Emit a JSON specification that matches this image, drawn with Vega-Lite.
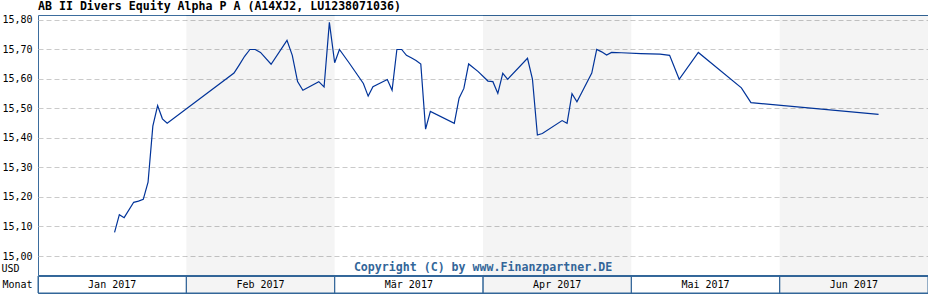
{
  "$schema": "https://vega.github.io/schema/vega-lite/v6.json",
  "padding": {"left": 0, "top": 0, "right": 1, "bottom": 0},
  "background": "white",
  "datasets": {
    "prices": [
      {"date": "2017-01-17", "value": 15.08},
      {"date": "2017-01-18", "value": 15.14},
      {"date": "2017-01-19", "value": 15.13},
      {"date": "2017-01-21", "value": 15.182},
      {"date": "2017-01-22", "value": 15.186},
      {"date": "2017-01-23", "value": 15.192},
      {"date": "2017-01-24", "value": 15.25},
      {"date": "2017-01-25", "value": 15.44},
      {"date": "2017-01-26", "value": 15.51},
      {"date": "2017-01-27", "value": 15.465},
      {"date": "2017-01-28", "value": 15.45},
      {"date": "2017-02-10", "value": 15.62},
      {"date": "2017-02-11", "value": 15.648},
      {"date": "2017-02-12", "value": 15.677},
      {"date": "2017-02-13", "value": 15.70},
      {"date": "2017-02-14", "value": 15.70},
      {"date": "2017-02-15", "value": 15.69},
      {"date": "2017-02-17", "value": 15.65},
      {"date": "2017-02-20", "value": 15.731},
      {"date": "2017-02-21", "value": 15.68},
      {"date": "2017-02-22", "value": 15.591},
      {"date": "2017-02-23", "value": 15.562},
      {"date": "2017-02-26", "value": 15.591},
      {"date": "2017-02-27", "value": 15.573},
      {"date": "2017-02-28", "value": 15.792},
      {"date": "2017-03-01", "value": 15.655},
      {"date": "2017-03-02", "value": 15.70},
      {"date": "2017-03-04", "value": 15.655},
      {"date": "2017-03-07", "value": 15.585},
      {"date": "2017-03-08", "value": 15.542},
      {"date": "2017-03-09", "value": 15.574},
      {"date": "2017-03-12", "value": 15.598},
      {"date": "2017-03-13", "value": 15.562},
      {"date": "2017-03-14", "value": 15.70},
      {"date": "2017-03-15", "value": 15.70},
      {"date": "2017-03-16", "value": 15.68},
      {"date": "2017-03-17", "value": 15.672},
      {"date": "2017-03-18", "value": 15.663},
      {"date": "2017-03-19", "value": 15.651},
      {"date": "2017-03-20", "value": 15.43},
      {"date": "2017-03-21", "value": 15.49},
      {"date": "2017-03-26", "value": 15.45},
      {"date": "2017-03-27", "value": 15.535},
      {"date": "2017-03-28", "value": 15.568},
      {"date": "2017-03-29", "value": 15.651},
      {"date": "2017-03-31", "value": 15.625},
      {"date": "2017-04-02", "value": 15.593},
      {"date": "2017-04-03", "value": 15.591},
      {"date": "2017-04-04", "value": 15.551},
      {"date": "2017-04-05", "value": 15.619},
      {"date": "2017-04-06", "value": 15.599},
      {"date": "2017-04-10", "value": 15.67},
      {"date": "2017-04-11", "value": 15.60},
      {"date": "2017-04-12", "value": 15.41},
      {"date": "2017-04-13", "value": 15.415},
      {"date": "2017-04-17", "value": 15.459},
      {"date": "2017-04-18", "value": 15.45},
      {"date": "2017-04-19", "value": 15.55},
      {"date": "2017-04-20", "value": 15.523},
      {"date": "2017-04-21", "value": 15.555},
      {"date": "2017-04-23", "value": 15.62},
      {"date": "2017-04-24", "value": 15.70},
      {"date": "2017-04-25", "value": 15.692},
      {"date": "2017-04-26", "value": 15.681},
      {"date": "2017-04-27", "value": 15.69},
      {"date": "2017-04-29", "value": 15.689},
      {"date": "2017-05-03", "value": 15.686},
      {"date": "2017-05-07", "value": 15.684},
      {"date": "2017-05-09", "value": 15.68},
      {"date": "2017-05-11", "value": 15.599},
      {"date": "2017-05-15", "value": 15.69},
      {"date": "2017-05-24", "value": 15.57},
      {"date": "2017-05-26", "value": 15.52},
      {"date": "2017-06-21", "value": 15.48}
    ],
    "months": [
      {"label": "Jan 2017", "start": "2017-01-01", "end": "2017-02-01"},
      {"label": "Feb 2017", "start": "2017-02-01", "end": "2017-03-01"},
      {"label": "Mär 2017", "start": "2017-03-01", "end": "2017-04-01"},
      {"label": "Apr 2017", "start": "2017-04-01", "end": "2017-05-01"},
      {"label": "Mai 2017", "start": "2017-05-01", "end": "2017-06-01"},
      {"label": "Jun 2017", "start": "2017-06-01", "end": "2017-07-01"}
    ]
  },
  "config": {
    "view": {"stroke": "#336699", "strokeWidth": 1},
    "font": "DejaVu Sans Mono",
    "concat": {"spacing": 0}
  },
  "spacing": -2,
  "vconcat": [
    {
      "width": 890,
      "height": 260,
      "title": {
        "text": "AB II Divers Equity Alpha P A (A14XJ2, LU1238071036)",
        "anchor": "start",
        "frame": "group",
        "font": "DejaVu Sans Mono",
        "fontSize": 11.6,
        "fontWeight": "bold",
        "color": "#000000",
        "offset": 2
      },
      "layer": [
        {
          "data": {"name": "months"},
          "transform": [
            {"calculate": "utcmonth(toDate(datum.start)) + (utcdate(toDate(datum.start)) - 1) / utcdate(utc(utcyear(toDate(datum.start)), utcmonth(toDate(datum.start)) + 1, 0))", "as": "xs"},
            {"calculate": "utcmonth(toDate(datum.end)) + (utcyear(toDate(datum.end)) - 2017) * 12 + (utcdate(toDate(datum.end)) - 1) / utcdate(utc(utcyear(toDate(datum.end)), utcmonth(toDate(datum.end)) + 1, 0))", "as": "xe"}
          ],
          "mark": {"type": "rect", "fillOpacity": 0.043},
          "encoding": {
            "x": {"field": "xs", "type": "quantitative", "scale": {"domain": [0, 6], "nice": false, "zero": false}, "axis": null},
            "x2": {"field": "xe"},
            "color": {
              "field": "label", "type": "nominal",
              "scale": {"domain": ["Jan 2017", "Feb 2017", "Mär 2017", "Apr 2017", "Mai 2017", "Jun 2017"], "range": ["#ffffff", "#000000", "#ffffff", "#000000", "#ffffff", "#000000"]},
              "legend": null
            }
          }
        },
        {
          "data": {"name": "prices"},
          "transform": [
            {"calculate": "utcmonth(toDate(datum.date)) + (utcdate(toDate(datum.date)) - 1) / utcdate(utc(utcyear(toDate(datum.date)), utcmonth(toDate(datum.date)) + 1, 0))", "as": "m"}
          ],
          "mark": {"type": "line", "color": "#003399", "strokeWidth": 1.2},
          "encoding": {
            "x": {"field": "m", "type": "quantitative"},
            "y": {
              "field": "value", "type": "quantitative",
              "scale": {"domain": [14.9356, 15.8169], "nice": false, "zero": false},
              "axis": {
                "values": [15.0, 15.1, 15.2, 15.3, 15.4, 15.5, 15.6, 15.7, 15.8],
                "tickCount": 9,
                "labelExpr": "replace(format(datum.value, '.2f'), '.', ',')",
                "labelOverlap": false,
                "grid": true, "gridColor": "#c8c8c8", "gridDash": [5, 3],
                "ticks": false, "domain": false,
                "labelFont": "DejaVu Sans Mono", "labelFontSize": 10, "labelColor": "#000000", "labelPadding": 6,
                "title": "USD", "titleAngle": 0, "titleX": -37, "titleY": 253,
                "titleAlign": "left", "titleBaseline": "middle",
                "titleFont": "DejaVu Sans Mono", "titleFontSize": 10, "titleFontWeight": "normal", "titleColor": "#000000",
                "zindex": 0
              }
            }
          }
        },
        {
          "data": {"values": [{"text": "Copyright (C) by www.Finanzpartner.DE"}]},
          "mark": {"type": "text", "font": "DejaVu Sans Mono", "fontSize": 11.6, "fontWeight": "bold", "color": "#336699", "align": "center", "baseline": "middle"},
          "encoding": {
            "x": {"datum": 3, "type": "quantitative"},
            "y": {
              "datum": 14.959, "type": "quantitative",
              "axis": {
                "values": [15.0, 15.1, 15.2, 15.3, 15.4, 15.5, 15.6, 15.7, 15.8],
                "tickCount": 9,
                "labelExpr": "replace(format(datum.value, '.2f'), '.', ',')",
                "labelOverlap": false,
                "grid": true, "gridColor": "#c8c8c8", "gridDash": [5, 3],
                "ticks": false, "domain": false,
                "labelFont": "DejaVu Sans Mono", "labelFontSize": 10, "labelColor": "#000000", "labelPadding": 6,
                "title": "USD", "titleAngle": 0, "titleX": -37, "titleY": 253,
                "titleAlign": "left", "titleBaseline": "middle",
                "titleFont": "DejaVu Sans Mono", "titleFontSize": 10, "titleFontWeight": "normal", "titleColor": "#000000",
                "zindex": 0
              }
            },
            "text": {"field": "text"}
          }
        }
      ]
    },
    {
      "width": 890,
      "height": 17,
      "data": {"name": "months"},
      "transform": [
        {"calculate": "utcmonth(toDate(datum.start)) + (utcdate(toDate(datum.start)) - 1) / utcdate(utc(utcyear(toDate(datum.start)), utcmonth(toDate(datum.start)) + 1, 0))", "as": "xs"},
        {"calculate": "utcmonth(toDate(datum.end)) + (utcyear(toDate(datum.end)) - 2017) * 12 + (utcdate(toDate(datum.end)) - 1) / utcdate(utc(utcyear(toDate(datum.end)), utcmonth(toDate(datum.end)) + 1, 0))", "as": "xe"},
        {"calculate": "(datum.xs + datum.xe) / 2", "as": "xc"}
      ],
      "layer": [
        {
          "mark": {"type": "rect", "stroke": "#336699", "strokeWidth": 1, "fillOpacity": 0.043, "strokeOpacity": 1},
          "encoding": {
            "x": {"field": "xs", "type": "quantitative", "scale": {"domain": [0, 6], "nice": false, "zero": false}, "axis": null},
            "x2": {"field": "xe"},
            "y": {
              "datum": "Monat", "type": "nominal",
              "scale": {"paddingInner": 0, "paddingOuter": 0},
              "axis": {"title": null, "ticks": false, "domain": false, "labelFont": "DejaVu Sans Mono", "labelFontSize": 10, "labelColor": "#000000", "labelPadding": 6}
            },
            "color": {
              "field": "label", "type": "nominal",
              "scale": {"domain": ["Jan 2017", "Feb 2017", "Mär 2017", "Apr 2017", "Mai 2017", "Jun 2017"], "range": ["#ffffff", "#000000", "#ffffff", "#000000", "#ffffff", "#000000"]},
              "legend": null
            }
          }
        },
        {
          "mark": {"type": "text", "font": "DejaVu Sans Mono", "fontSize": 10, "color": "#000000"},
          "encoding": {
            "x": {"field": "xc", "type": "quantitative"},
            "y": {"datum": "Monat", "type": "nominal"},
            "text": {"field": "label"}
          }
        }
      ]
    }
  ]
}
